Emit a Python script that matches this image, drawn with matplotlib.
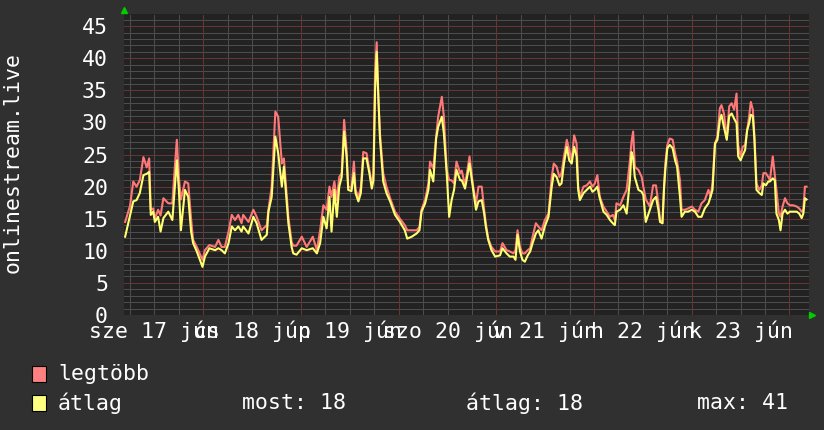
import numpy as np
import matplotlib
matplotlib.use('Agg')
import matplotlib.pyplot as plt
from matplotlib.patches import Rectangle

# hours counted from 17 June 00:00
hours = [4.8, 6.0, 6.8, 7.6, 8.4, 9.3, 10.1, 10.7, 11.1, 11.7, 12.1, 12.9, 13.5, 14.2, 15.4, 16.4, 17.0, 17.5, 18.0, 18.5,
         19.5, 20.3, 21.0, 21.5, 22.4, 23.8, 24.4, 25.5, 26.9, 27.7, 28.5, 29.3, 30.2, 31.0, 31.8, 32.6, 33.4, 33.8, 35.1, 36.3,
         37.1, 38.3, 39.6, 40.0, 40.8, 41.7, 42.4, 43.3, 43.8, 44.9, 45.7,
         46.1, 46.9, 48.2, 49.4, 50.9, 51.9, 52.7, 53.5, 54.3, 55.0, 55.5, 56.2, 56.8, 57.4, 58.0, 58.6, 59.2, 59.6, 60.4, 61.0,
         61.4, 62.1, 62.7, 63.3, 64.1, 64.8, 65.4, 65.8, 66.2, 66.6, 67.0, 67.4, 68.2, 69.0, 69.9, 71.1, 72.3, 73.5, 74.1, 75.2,
         76.4, 77.1, 77.6, 78.5, 79.3, 79.7, 80.5, 81.2, 81.7, 82.6, 83.1, 83.8, 84.4, 85.0, 85.6, 86.2, 87.1,
         87.5, 88.3, 89.4, 90.3, 91.0, 91.6, 92.4, 93.0, 93.4, 94.0, 94.8, 95.7, 96.9, 97.5, 98.5, 99.3, 100.2, 100.7, 101.2, 101.8,
         102.4, 103.0, 103.7, 104.3, 104.9, 105.7, 106.3, 107.1, 107.9, 108.8, 109.6, 110.1, 110.8, 111.5, 112.0, 112.6, 113.3, 113.9, 114.5, 115.1,
         115.7, 116.1, 116.5, 117.4, 118.2, 119.0, 119.6, 120.2, 120.8, 121.4, 122.3, 123.1, 123.9, 124.6, 125.1, 125.5, 126.4, 127.2, 128.0, 128.8,
         129.2, 129.6, 130.0, 130.9, 131.7, 132.1, 132.7, 133.7, 134.5, 135.2, 135.8, 136.2, 136.8, 137.2, 137.5, 138.0, 138.6, 139.3, 139.9, 140.4,
         141.1, 141.5, 142.3, 143.1, 144.0, 144.8, 145.6, 146.4, 147.2, 148.1, 148.6, 149.1, 149.7, 150.3, 150.9, 151.3, 151.9, 152.6, 153.2, 153.8,
         154.4, 155.0, 155.4, 156.0, 156.5, 157.1, 157.6, 158.1, 158.5, 159.0, 159.4, 159.9, 160.6, 161.2, 161.6, 162.2, 162.8, 163.2, 163.9, 164.4,
         164.8, 165.4, 165.8, 166.3, 166.9, 167.5, 168.1, 168.9, 169.8, 170.4, 171.0, 171.4, 171.8, 172.2]

legtobb = [14.5, 17.0, 20.8, 20.0, 21.0, 24.6, 23.0, 24.4, 16.4, 16.6, 15.0, 16.4, 15.5, 18.2, 17.4, 17.4, 23.0, 27.3, 21.5, 18.0,
           20.8, 20.5, 15.0, 11.7, 10.6, 8.6, 10.1, 10.9, 10.6, 11.7, 10.6, 10.6, 13.0, 15.6, 14.8, 15.6, 14.3, 15.6, 14.5, 16.4,
           15.3, 13.2, 14.0, 16.4, 20.0, 31.7, 30.9, 23.6, 24.4, 15.3, 11.4,
           10.8, 10.8, 12.2, 10.6, 12.2, 10.1, 13.2, 17.1, 16.4, 20.0, 18.4, 20.8, 17.9, 21.5, 22.1, 30.4, 25.7, 20.0, 19.8, 23.9,
           19.5, 18.4, 19.9, 25.4, 25.2, 22.6, 20.2, 22.1, 38.0, 42.5, 34.0, 28.3, 22.1, 20.0, 18.2, 16.1, 15.0, 14.0, 13.2, 13.2,
           13.2, 13.7, 16.4, 18.0, 20.5, 23.9, 22.8, 27.8, 30.9, 34.0, 30.9, 22.6, 21.0, 21.0, 20.5, 23.9, 22.1,
           22.5, 20.2, 24.7, 20.0, 17.4, 20.0, 20.0, 16.4, 14.3, 11.9, 10.6, 9.9, 9.9, 11.2, 10.1, 9.9, 9.6, 10.1, 13.2, 10.6,
           9.6, 9.6, 10.1, 10.4, 12.2, 14.3, 13.8, 13.2, 14.8, 15.8, 21.5, 23.6, 23.1, 21.5, 22.1, 24.7, 27.3, 25.7, 24.1, 28.0,
           26.7, 20.0, 18.4, 20.0, 20.2, 20.8, 20.0, 20.5, 21.8, 18.4, 16.9, 16.1, 15.3, 15.6, 14.8, 17.4, 17.1, 18.4, 19.5, 24.0,
           27.0, 28.6, 23.1, 22.6, 21.5, 20.0, 18.0, 16.9, 20.2, 20.2, 17.4, 14.8, 14.3, 20.0, 23.6, 26.5, 27.5, 27.3, 25.2, 23.9,
           21.0, 16.4, 16.4, 16.6, 16.9, 16.4, 16.1, 17.4, 17.9, 19.5, 18.4, 20.5, 26.7, 27.8, 32.2, 32.7, 31.4, 27.5, 32.5, 33.0,
           32.0, 34.5, 26.5, 24.7, 26.2, 26.5, 28.8, 31.0, 33.2, 32.0, 27.8, 20.5, 19.5, 20.2, 22.1, 22.1, 21.5, 21.0, 24.7, 21.8,
           19.5, 15.8, 15.3, 16.9, 18.2, 17.4, 17.1, 17.1, 16.9, 16.6, 16.1, 16.4, 20.0, 20.0]

atlag = [12.2, 15.5, 17.7, 17.9, 19.0, 21.8, 22.0, 22.3, 15.6, 16.1, 14.5, 15.3, 13.0, 15.1, 16.1, 14.8, 20.0, 24.1, 19.5, 13.2,
         19.5, 18.4, 13.0, 11.2, 9.9, 7.5, 9.1, 10.4, 10.1, 10.4, 10.1, 9.6, 11.2, 13.8, 13.2, 13.8, 13.0, 13.8, 12.7, 15.3,
         14.3, 11.7, 12.5, 16.1, 18.4, 27.8, 25.2, 20.0, 23.1, 14.3, 10.6,
         9.6, 9.4, 10.4, 10.1, 10.4, 9.6, 11.2, 15.3, 13.5, 18.4, 13.0, 19.5, 15.3, 20.0, 21.5, 28.6, 24.7, 19.5, 19.3, 22.1,
         19.0, 17.7, 19.0, 24.4, 24.4, 22.1, 19.7, 21.0, 35.0, 41.0, 34.0, 27.5, 20.8, 19.0, 17.7, 15.6, 14.5, 13.2, 11.9, 12.2,
         12.7, 13.2, 16.1, 17.4, 19.5, 22.6, 20.8, 27.5, 29.3, 30.9, 28.3, 22.1, 15.3, 17.9, 19.5, 22.6, 21.0,
         21.0, 19.7, 23.6, 19.5, 16.4, 17.7, 17.9, 15.8, 13.8, 11.7, 10.1, 9.1, 9.3, 10.4, 9.6, 9.1, 9.1, 8.6, 12.5, 9.9,
         8.6, 8.3, 9.3, 9.9, 11.2, 12.7, 13.2, 11.9, 13.8, 15.3, 20.0, 22.0, 21.5, 20.2, 20.5, 23.6, 26.2, 24.1, 23.6, 26.2,
         24.7, 19.5, 17.9, 19.0, 19.5, 20.0, 19.2, 19.5, 20.0, 18.2, 16.1, 15.6, 14.8, 14.3, 14.0, 16.1, 16.4, 17.1, 15.8, 21.0,
         25.4, 24.5, 21.5, 19.5, 19.2, 18.7, 14.5, 16.4, 17.9, 18.4, 16.4, 14.5, 14.3, 20.0, 22.6, 26.0, 26.5, 26.0, 24.1, 23.1,
         18.4, 15.3, 16.1, 16.1, 16.4, 16.1, 15.3, 15.3, 16.6, 17.4, 18.4, 19.5, 26.7, 27.3, 30.4, 31.2, 29.3, 27.3, 31.0, 31.4,
         30.6, 29.9, 24.7, 24.1, 24.9, 25.7, 28.8, 29.9, 31.2, 31.0, 27.3, 19.5, 19.0, 18.7, 20.5, 20.2, 20.8, 20.8, 21.3, 21.0,
         15.8, 14.8, 13.2, 15.8, 16.4, 15.8, 16.1, 16.1, 16.1, 15.8, 15.1, 15.8, 18.2, 18.0]

day_labels = ['sze 17 jún', 'cs 18 jún', 'p 19 jún', 'szo 20 jún', 'v 21 jún', 'h 22 jún', 'k 23 jún']
legend_names = ['legtöbb', 'átlag']
stats = ['most: 18', 'átlag: 18', 'max: 41']

assert len(hours) == len(legtobb) == len(atlag)

plt.rcParams['font.family'] = 'DejaVu Sans Mono'
fs = 15.5
W, H = 824, 430

fig = plt.figure(figsize=(W / 100, H / 100), dpi=100, facecolor='#303030')
ax = fig.add_axes([124 / W, (H - 315) / H, 685 / W, 301 / H])
ax.set_facecolor('#222222')
x0, x1 = 4.52, 172.8
ax.set_xlim(x0, x1)
ax.set_ylim(0, 46.9)

# dotted grid, rrdtool style
dots = (0, (1, 1))
ax.hlines(np.arange(1, 47), x0, x1, colors='#4d4d4d', lw=0.72, linestyles=dots, antialiased=False, zorder=1)
ax.vlines(np.arange(6, 173, 6), 0, 46.9, colors='#4d4d4d', lw=0.72, linestyles=dots, antialiased=False, zorder=1)
ax.hlines(np.arange(5, 47, 5), x0, x1, colors='#6a3434', lw=0.72, linestyles=dots, antialiased=False, zorder=2)
ax.vlines(np.arange(24, 173, 24), 0, 46.9, colors='#6a3434', lw=0.72, linestyles=dots, antialiased=False, zorder=2)

ax.plot(hours, legtobb, color='#ff7878', lw=1.5, zorder=3)
ax.plot(hours, atlag, color='#ffff70', lw=1.5, zorder=4)

for s in ax.spines.values():
    s.set_visible(False)

ax.set_yticks(np.arange(0, 46, 5))
ax.set_xticks(np.arange(12, 160, 24))
ax.set_xticklabels(day_labels)
ax.tick_params(axis='y', length=0, pad=11.5, labelsize=fs, labelcolor='white')
ax.tick_params(axis='x', length=0, pad=4, labelsize=fs, labelcolor='white')

# green arrows at the axis ends
ax.plot([0], [1.014], marker='^', color='#00cc00', ms=5, transform=ax.transAxes, clip_on=False)
ax.plot([1.005], [0], marker='>', color='#00cc00', ms=5, transform=ax.transAxes, clip_on=False)

fig.text(13 / W, 1 - 163 / H, 'onlinestream.live', rotation=90, ha='center', va='center',
         color='white', fontsize=fs)

# legend
swatch_cols = ['#ff8080', '#ffff80']
rows_y = [374, 403]
for name, col, yy in zip(legend_names, swatch_cols, rows_y):
    fig.patches.append(Rectangle((32 / W, 1 - (yy + 8) / H), 14 / W, 16 / H, transform=fig.transFigure,
                                 facecolor=col, edgecolor='black', lw=0.8))
    fig.text(58 / W, 1 - yy / H, name, ha='left', va='center', color='white', fontsize=fs)

for txt, xx in zip(stats, [242, 466, 697]):
    fig.text(xx / W, 1 - 403 / H, txt, ha='left', va='center', color='white', fontsize=fs)

fig.savefig('out.png', dpi=100, facecolor=fig.get_facecolor())
